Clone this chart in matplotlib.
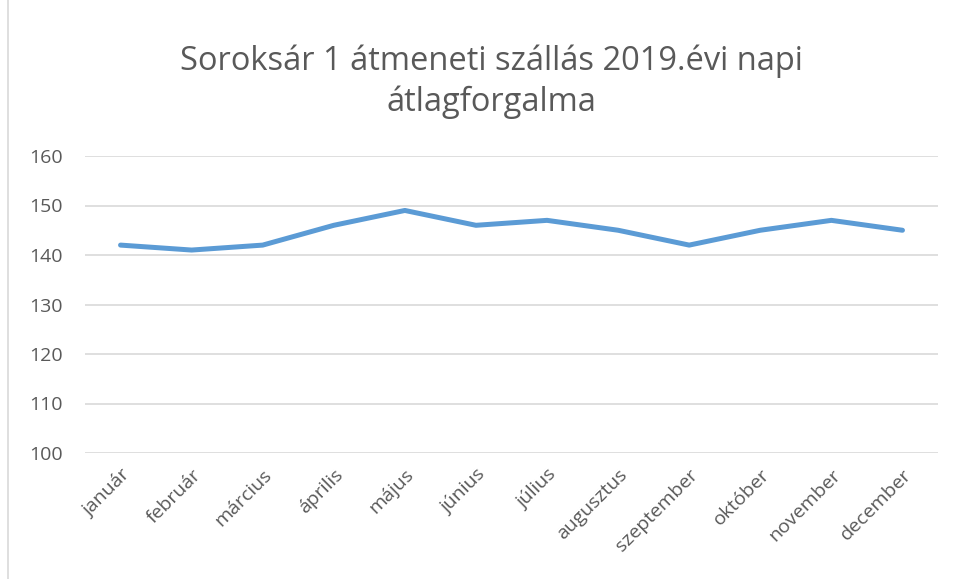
#!/usr/bin/env python3
"""Soroksár 1 átmeneti szállás - 2019 daily average line chart."""

import matplotlib.pyplot as plt
from matplotlib.lines import Line2D

months = ["január", "február", "március", "április", "május", "június",
          "július", "augusztus", "szeptember", "október", "november", "december"]
values = [142, 141, 142, 146, 149, 146, 147, 145, 142, 145, 147, 145]
y_ticks = [100, 110, 120, 130, 140, 150, 160]

TEXT = "#595959"
GRID = "#D9D9D9"
LINE = "#5B9BD5"

plt.rcParams["font.family"] = ["Open Sans", "DejaVu Sans"]

fig = plt.figure(figsize=(9.56, 5.79), dpi=100)
ax = fig.add_axes([85 / 956, 1 - 453 / 579, 853 / 956, 297 / 579])

x = list(range(len(months)))
ax.plot(x, values, color=LINE, linewidth=3.6, solid_capstyle="round",
        solid_joinstyle="round", zorder=3)

ax.set_xlim(-0.5, len(months) - 0.5)
ax.set_ylim(100, 160)
ax.set_yticks(y_ticks)
ax.set_xticks(x)
ax.set_xticklabels(months, rotation=45, ha="right", rotation_mode="anchor",
                   fontsize=14, color=TEXT)
ax.tick_params(axis="y", labelsize=14, colors=TEXT, length=0, pad=16)
ax.tick_params(axis="x", length=0, pad=9)
ax.grid(axis="y", color=GRID, linewidth=1.2)
ax.set_axisbelow(True)
for side in ax.spines.values():
    side.set_visible(False)

fig.text(491 / 956, 1 - 82 / 579, "Soroksár 1 átmeneti szállás 2019.évi napi\nátlagforgalma",
         ha="center", va="center", fontsize=23.5, color=TEXT, linespacing=1.3)

# chart frame edge on the left
fig.add_artist(Line2D([8 / 956, 8 / 956], [0, 1], color="#D9D9D9", linewidth=1.2))

fig.savefig("out.png", dpi=100)
